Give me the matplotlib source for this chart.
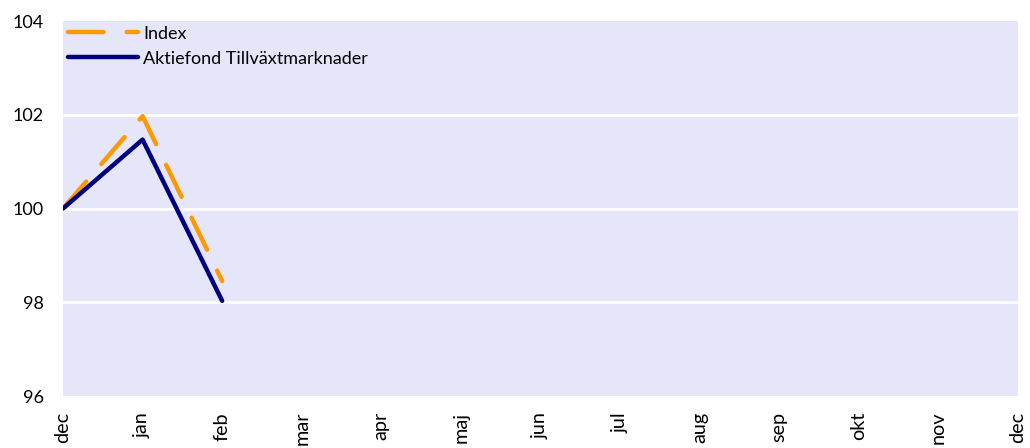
import matplotlib
matplotlib.use("Agg")
import matplotlib.pyplot as plt

months = ["dec", "jan", "feb", "mar", "apr", "maj", "jun", "jul", "aug", "sep", "okt", "nov", "dec"]
index_vals = [100.0, 101.97, 98.45]
fund_vals = [100.0, 101.47, 98.03]
yticks = [96, 98, 100, 102, 104]

fig = plt.figure(figsize=(10.30, 4.48), dpi=100)
ax = fig.add_axes([63/1030, 1-396/448, (1018-63)/1030, (396-21)/448])
ax.set_facecolor("#E6E6FA")

for y in yticks[1:-1]:
    ax.axhline(y, color="white", lw=2, zorder=1)

lw = 3.2
ax.plot(range(len(index_vals)), index_vals, color="#FF9900", lw=lw,
        dashes=(8.0, 5.2), label="Index", zorder=3,
        dash_capstyle="round", solid_capstyle="round")
ax.plot(range(len(fund_vals)), fund_vals, color="#000080", lw=lw,
        label="Aktiefond Tillväxtmarknader", zorder=4, solid_capstyle="round")

ax.set_xlim(0, len(months) - 1)
ax.set_ylim(96, 104)
ax.set_yticks(yticks)
ax.set_yticklabels([str(v) for v in yticks], fontsize=13, family="Lato")
ax.set_xticks(range(len(months)))
ax.set_xticklabels(months, rotation=90, fontsize=14.3, family="Lato")
ax.tick_params(axis="y", length=0, pad=14)
ax.tick_params(axis="x", length=0, pad=11.5)
for s in ax.spines.values():
    s.set_visible(False)

leg = ax.legend(loc="upper left", bbox_to_anchor=(0.0, 1.0), frameon=False,
                handlelength=3.9, handletextpad=0.28, borderpad=0.15,
                borderaxespad=0.1, labelspacing=0.5,
                prop={"family": "Lato", "size": 13})

fig.savefig("out.png", dpi=100)
